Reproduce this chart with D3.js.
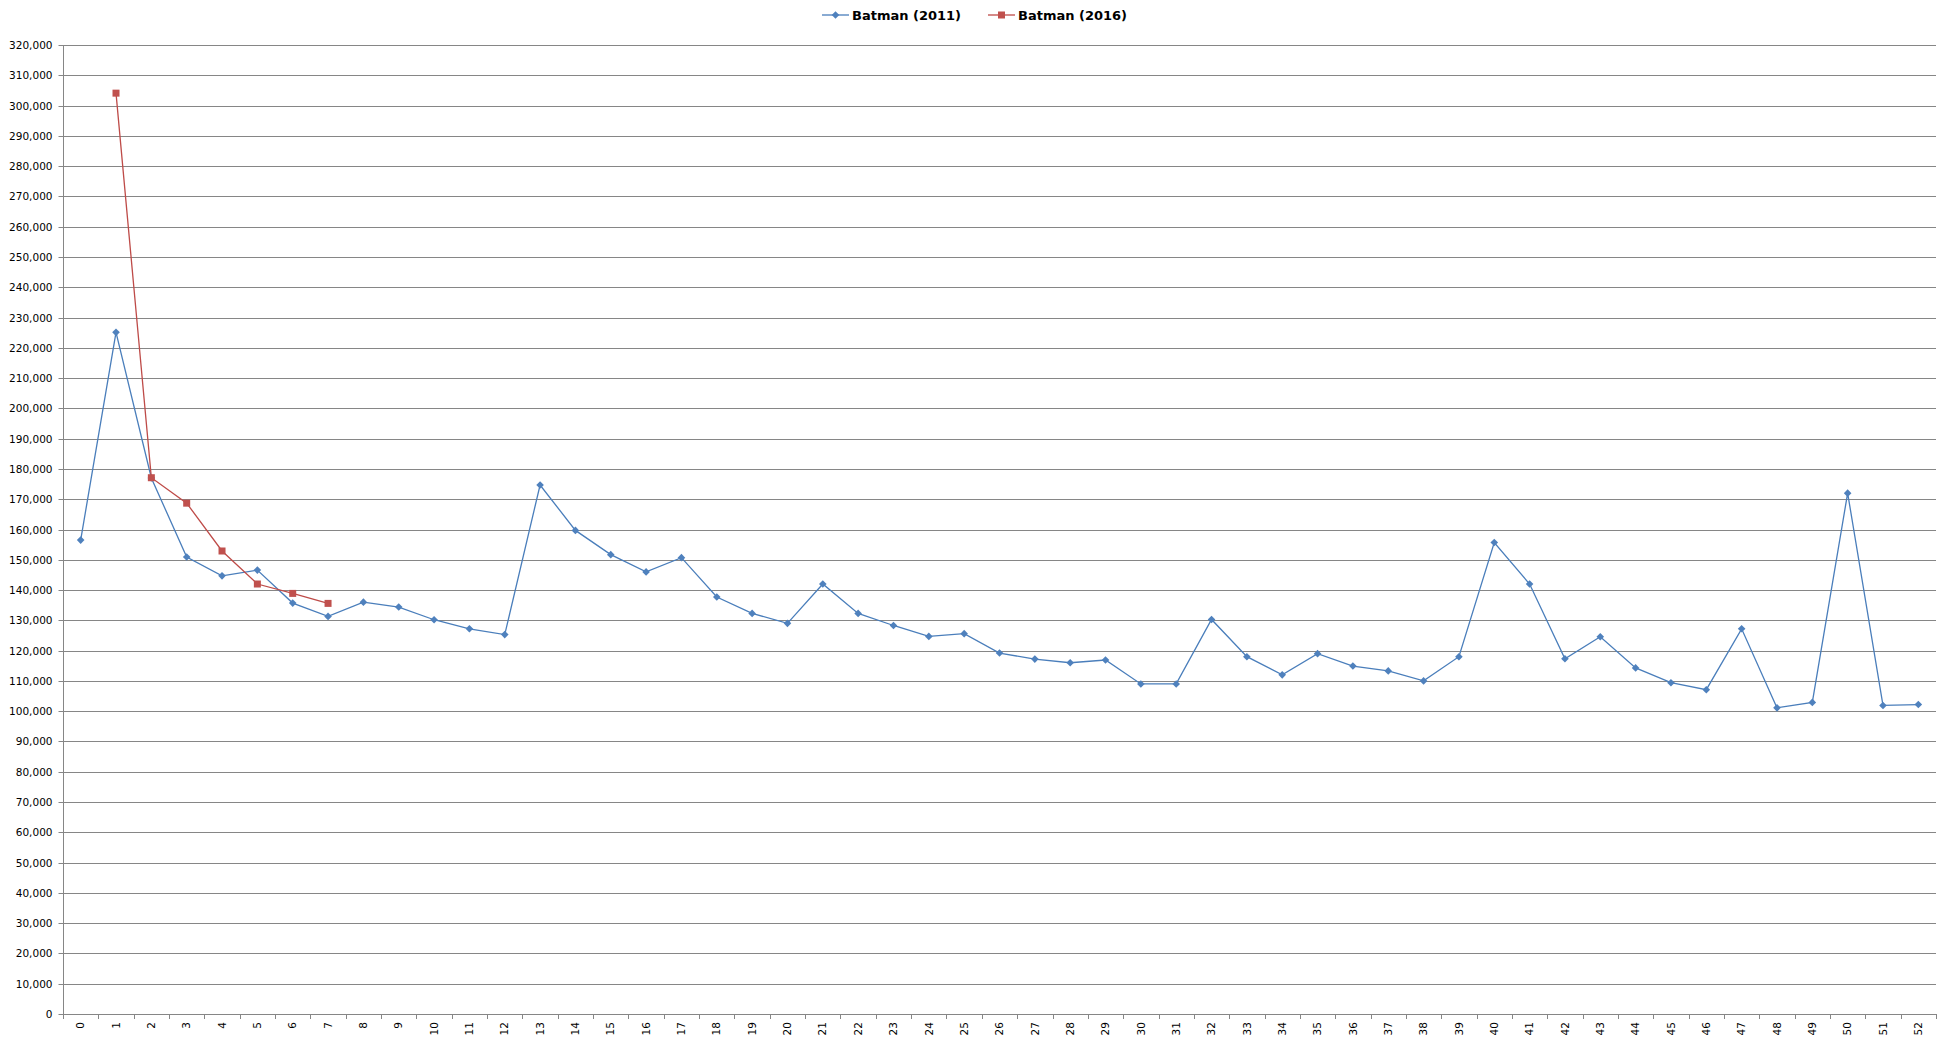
<!DOCTYPE html>
<html>
<head>
<meta charset="utf-8">
<script src="https://cdn.jsdelivr.net/npm/d3@7"></script>
<style>
  html, body { margin: 0; padding: 0; background: #fff; }
  svg { display: block; }
</style>
</head>
<body>
<svg id="chart" width="1949" height="1044"></svg>
<script>
// ---------- DATA ----------
const categories = [0,1,2,3,4,5,6,7,8,9,10,11,12,13,14,15,16,17,18,19,20,21,22,23,24,25,26,27,28,29,30,31,32,33,34,35,36,37,38,39,40,41,42,43,44,45,46,47,48,49,50,51,52];
const seriesNames = ["Batman (2011)", "Batman (2016)"];
const batman2011 = [156500,225100,177000,150900,144700,146600,135700,131300,136000,134400,130200,127200,125300,174700,159700,151700,146000,150700,137700,132300,129000,142000,132300,128300,124700,125600,119200,117200,116000,116900,109000,109000,130300,118000,112000,119000,114900,113300,110000,118000,155700,142000,117300,124600,114300,109400,107100,127200,101100,102900,172000,101900,102200];
const batman2016 = [null,304100,177100,168700,152900,142000,138900,135600];
const yTickValues = [0,10000,20000,30000,40000,50000,60000,70000,80000,90000,100000,110000,120000,130000,140000,150000,160000,170000,180000,190000,200000,210000,220000,230000,240000,250000,260000,270000,280000,290000,300000,310000,320000];

(function () {
// ---------- LAYOUT ----------
const pLeft = 63, pRight = 1936, pTop = 45, pBottom = 1014;
const svg = d3.select("#chart");
const font = "'DejaVu Sans', Verdana, sans-serif";
const gridColor = "#868686";
const blue = "#4A7EBB", blueMarker = "#4F81BD";
const red = "#BE4B48", redMarker = "#C0504D";

const x = d3.scaleBand().domain(categories).range([pLeft, pRight]).padding(0);
const y = d3.scaleLinear().domain([0, 320000]).range([pBottom, pTop]);
const cx = c => x(c) + x.bandwidth() / 2;

// gridlines
svg.append("g").selectAll("line").data(yTickValues).join("line")
  .attr("x1", pLeft).attr("x2", pRight)
  .attr("y1", d => Math.round(y(d)) + 0.5).attr("y2", d => Math.round(y(d)) + 0.5)
  .attr("stroke", gridColor).attr("stroke-width", 1);

// y axis
const yAxis = svg.append("g").attr("transform", `translate(${pLeft + 0.5},0.5)`)
  .call(d3.axisLeft(y).tickValues(yTickValues).tickFormat(d3.format(",")).tickSize(5).tickPadding(6));
yAxis.selectAll(".tick").attr("transform", d => `translate(0,${Math.round(y(d))})`);
yAxis.selectAll("line").attr("stroke", gridColor);
yAxis.select(".domain").attr("stroke", gridColor).attr("d", `M0,${pTop}V${pBottom}`);
yAxis.selectAll("text").attr("font-family", font).attr("font-size", "10.5px").attr("fill", "#000");

// x axis line
svg.append("line").attr("x1", pLeft).attr("x2", pRight)
  .attr("y1", pBottom + 0.5).attr("y2", pBottom + 0.5).attr("stroke", gridColor);
// x ticks at category boundaries
const boundaries = categories.map(c => x(c)).concat([x(categories[categories.length - 1]) + x.bandwidth()]);
svg.append("g").selectAll("line").data(boundaries).join("line")
  .attr("x1", d => Math.round(d) + 0.5).attr("x2", d => Math.round(d) + 0.5)
  .attr("y1", pBottom).attr("y2", pBottom + 5).attr("stroke", gridColor);
// x labels
svg.append("g").selectAll("text").data(categories).join("text")
  .attr("transform", d => `translate(${cx(d)},${pBottom + 8}) rotate(-90)`)
  .attr("text-anchor", "end").attr("dy", "0.35em")
  .attr("font-family", font).attr("font-size", "10.5px").attr("fill", "#000")
  .text(d => d);

// series
const diamond = r => `M0,${-r}L${r},0L0,${r}L${-r},0Z`;
const s1 = categories.map((c, i) => ({c, v: batman2011[i]}));
const s2 = categories.map((c, i) => ({c, v: i < batman2016.length ? batman2016[i] : null}));
const line = d3.line().defined(d => d.v != null).x(d => cx(d.c)).y(d => y(d.v));

svg.append("path").datum(s1).attr("d", line).attr("fill", "none").attr("stroke", blue).attr("stroke-width", 1.3);
svg.append("g").selectAll("path").data(s1.filter(d => d.v != null)).join("path")
  .attr("transform", d => `translate(${cx(d.c)},${y(d.v)})`).attr("d", diamond(3.8)).attr("fill", blueMarker);

svg.append("path").datum(s2).attr("d", line).attr("fill", "none").attr("stroke", red).attr("stroke-width", 1.3);
svg.append("g").selectAll("rect").data(s2.filter(d => d.v != null)).join("rect")
  .attr("x", d => cx(d.c) - 3.5).attr("y", d => y(d.v) - 3.5).attr("width", 7).attr("height", 7).attr("fill", redMarker);

// legend
const legendItems = [
  {name: seriesNames[0], x0: 822, color: blue, mcolor: blueMarker, shape: "diamond"},
  {name: seriesNames[1], x0: 988, color: red, mcolor: redMarker, shape: "square"}
];
const lg = svg.append("g");
legendItems.forEach(it => {
  const g = lg.append("g").attr("transform", `translate(${it.x0},15)`);
  g.append("line").attr("x1", 0).attr("x2", 27).attr("y1", 0).attr("y2", 0).attr("stroke", it.color).attr("stroke-width", 1.3);
  if (it.shape === "diamond") g.append("path").attr("transform", "translate(13.5,0)").attr("d", diamond(3.8)).attr("fill", it.mcolor);
  else g.append("rect").attr("x", 10).attr("y", -3.5).attr("width", 7).attr("height", 7).attr("fill", it.mcolor);
  g.append("text").attr("x", 30).attr("y", 0).attr("dy", "0.36em")
    .attr("font-family", font).attr("font-weight", "bold").attr("font-size", "13px").attr("fill", "#000")
    .text(it.name);
});
})();
</script>
</body>
</html>
